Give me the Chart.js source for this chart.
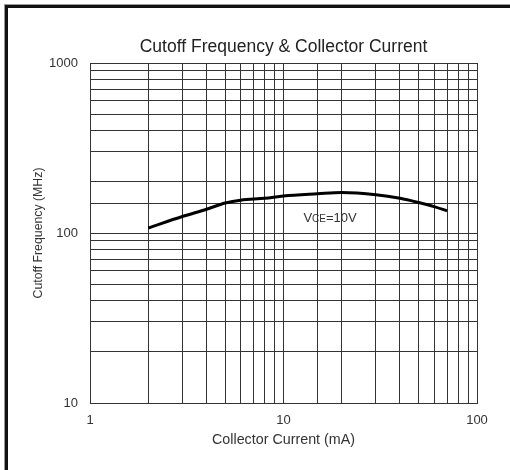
<!DOCTYPE html>
<html>
<head>
<meta charset="utf-8">
<script src="https://cdn.jsdelivr.net/npm/chart.js@4/dist/chart.umd.min.js"></script>
<style>
  html, body { margin: 0; padding: 0; background: #fff; }
  #wrap { position: relative; width: 510px; height: 470px; overflow: hidden; }
  #frame { position: absolute; left: 5px; top: 5px; width: 620px; height: 620px; border: 3px solid #111; box-shadow: -1px -1px 0 #999; }
  #chart { position: absolute; left: 0; top: 0; }
</style>
</head>
<body>
<div id="wrap">
  <div id="frame"></div>
  <canvas id="chart" width="510" height="470"></canvas>
</div>
<script>
// Cutoff frequency vs collector current, VCE = 10 V
const currentMA = [2, 3, 4, 5, 6, 8, 10, 15, 20, 30, 40, 50, 60, 70];
const cutoffMHz = [107, 125, 138, 150, 156, 160, 165, 170, 173, 168, 160, 151, 143, 135];
const xRange = [1, 100];
const yRange = [10, 1000];

// where the curve label sits, in data units
const labelAt = { x: 17.4, y: 124 };

const FONT = "'Liberation Sans', Arial, sans-serif";
const isDecade = v => Math.abs(Math.log10(v) - Math.round(Math.log10(v))) < 1e-9;

/** Draws "VCE=10V" with a small CE. */
const vceLabel = {
  id: 'vceLabel',
  afterDatasetsDraw(chart) {
    const { ctx, scales } = chart;
    const px = scales.x.getPixelForValue(labelAt.x);
    const py = scales.y.getPixelForValue(labelAt.y);
    const parts = [['V', 13], ['CE', 10], ['=10V', 13]];
    ctx.save();
    ctx.fillStyle = '#333';
    ctx.textBaseline = 'alphabetic';
    let w = 0;
    parts.forEach(p => { ctx.font = p[1] + 'px ' + FONT; w += ctx.measureText(p[0]).width; });
    let x = px - w / 2;
    parts.forEach(p => {
      ctx.font = p[1] + 'px ' + FONT;
      ctx.fillText(p[0], x, py + 5);
      x += ctx.measureText(p[0]).width;
    });
    ctx.restore();
  },
};

new Chart(document.getElementById('chart'), {
  type: 'line',
  data: {
    datasets: [{
      label: 'VCE=10V',
      data: currentMA.map((c, i) => ({ x: c, y: cutoffMHz[i] })),
      borderColor: '#000',
      borderWidth: 3,
      pointRadius: 0,
      cubicInterpolationMode: 'monotone',
      fill: false,
    }],
  },
  options: {
    responsive: false, animation: false,
    layout: { padding: { left: 0, right: 33, top: 0, bottom: 0 } },
    plugins: {
      legend: { display: false },
      tooltip: { enabled: false },
      title: {
        display: true, fullSize: false,
        text: 'Cutoff Frequency & Collector Current',
        color: '#222',
        font: { family: FONT, size: 17.5, weight: 'normal', lineHeight: 1.2 },
        padding: { top: 36.5, bottom: 5.5 },
      },
    },
    scales: {
      x: {
        type: 'logarithmic', min: xRange[0], max: xRange[1],
        afterFit: s => { s.height = 67; },
        ticks: {
          autoSkip: false, maxRotation: 0, padding: 10, color: '#333',
          font: { family: FONT, size: 13 },
          callback: v => isDecade(v) ? String(v) : '',
        },
        grid: { color: '#333', lineWidth: 1, drawTicks: false },
        border: { display: true, color: '#333' },
        title: {
          display: true, text: 'Collector Current (mA)', color: '#333',
          font: { family: FONT, size: 14.3, lineHeight: 1.2 }, padding: { top: 0, bottom: 21.4 },
        },
      },
      y: {
        type: 'logarithmic', min: yRange[0], max: yRange[1],
        afterFit: s => { s.width = 90; },
        ticks: {
          autoSkip: false, padding: 12, color: '#333',
          font: { family: FONT, size: 13 },
          callback: v => isDecade(v) ? String(v) : '',
        },
        grid: { color: '#333', lineWidth: 1, drawTicks: false },
        border: { display: true, color: '#333' },
        title: {
          display: true, text: 'Cutoff Frequency (MHz)', color: '#333',
          font: { family: FONT, size: 12.3, lineHeight: 1.2 }, padding: { top: 31.6, bottom: 0 },
        },
      },
    },
  },
  plugins: [vceLabel],
});
</script>
</body>
</html>
